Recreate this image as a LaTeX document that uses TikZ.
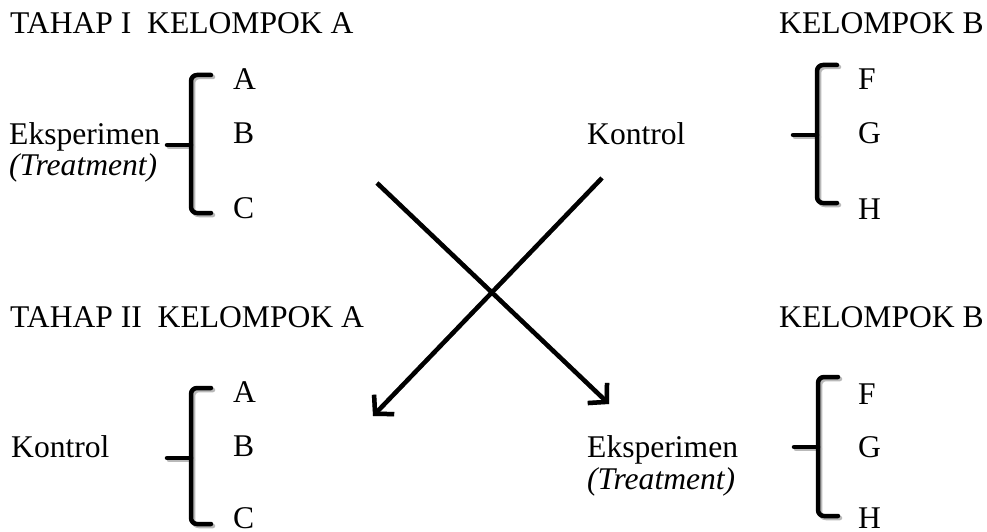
\documentclass[tikz,border=0pt]{standalone}
\usepackage{fontspec}
\IfFontExistsTF{LiberationSerif-Regular.ttf}{%
  \setmainfont{LiberationSerif}[Extension=.ttf,UprightFont=*-Regular,ItalicFont=*-Italic,BoldFont=*-Bold,BoldItalicFont=*-BoldItalic]}{%
  \IfFontExistsTF{texgyretermes-regular.otf}{%
    \setmainfont{texgyretermes}[Extension=.otf,UprightFont=*-regular,ItalicFont=*-italic,BoldFont=*-bold,BoldItalicFont=*-bolditalic]}{%
    \setmainfont{Liberation Serif}}}
\usetikzlibrary{arrows.meta}
\newcommand\drawbrace[4]{%
  \draw[brk,draw=gray!55,shift={(2,2)}] (#1+20,#2) -- (#1,#2) -- (#1,#3) -- (#1+20,#3);
  \draw[brk,draw=gray!55,shift={(2,2)}] (#1-24,#4) -- (#1,#4);
  \draw[brk] (#1+20,#2) -- (#1,#2) -- (#1,#3) -- (#1+20,#3);
  \draw[brk] (#1-24,#4) -- (#1,#4);
}
\begin{document}
\begin{tikzpicture}[x=1pt,y=-1pt,
  lbl/.style={anchor=base west,inner sep=0pt,font=\fontsize{31.6}{38}\selectfont},
  brk/.style={line width=4.5pt,rounded corners=6pt,line cap=round},
  arr/.style={line width=4.5pt,-{Straight Barb[length=13pt,width=28pt,line width=4.5pt]}},
  arrshd/.style={arr,draw=gray!55,shift={(2,2)}}
]
\useasboundingbox (0,0) rectangle (987,532);
% headings
\node[lbl] (h1) at (10,34) {TAHAP I\ \ KELOMPOK A};
\node[lbl] (h2) at (779,34) {KELOMPOK B};
\node[lbl] (h3) at (10,327) {TAHAP II\ \ KELOMPOK A};
\node[lbl] (h4) at (779,327) {KELOMPOK B};
% top left
\node[lbl] (eks1) at (9,144) {Eksperimen};
\node[lbl] (tr1) at (9,175) {\itshape(Treatment)};
\node[lbl] (a1) at (233,90) {A};
\node[lbl] (b1) at (233,143) {B};
\node[lbl] (c1) at (233,218) {C};
\drawbrace{191}{75}{213}{145}
% top right
\node[lbl] (k1) at (587,144) {Kontrol};
\node[lbl] (f1) at (858,90) {F};
\node[lbl] (g1) at (858,143) {G};
\node[lbl] (hh1) at (858,219) {H};
\drawbrace{817}{65}{203}{135}
% bottom left
\node[lbl] (k2) at (11,457) {Kontrol};
\node[lbl] (a2) at (233,402) {A};
\node[lbl] (b2) at (233,456) {B};
\node[lbl] (c2) at (233,528) {C};
\drawbrace{191}{388}{524}{458}
% bottom right
\node[lbl] (eks2) at (587,457) {Eksperimen};
\node[lbl] (tr2) at (587,489) {\itshape(Treatment)};
\node[lbl] (f2) at (858,404) {F};
\node[lbl] (g2) at (858,457) {G};
\node[lbl] (hh2) at (858,528) {H};
\drawbrace{818}{377}{516}{447}
% arrows
\coordinate (s1) at (377,183);
\coordinate (e1) at (609,404);
\coordinate (s2) at (602,178);
\coordinate (e2) at (373,416);
\draw[arrshd] (s1) -- (e1);
\draw[arrshd] (s2) -- (e2);
\draw[arr] (s1) -- (e1);
\draw[arr] (s2) -- (e2);
\end{tikzpicture}
\end{document}
